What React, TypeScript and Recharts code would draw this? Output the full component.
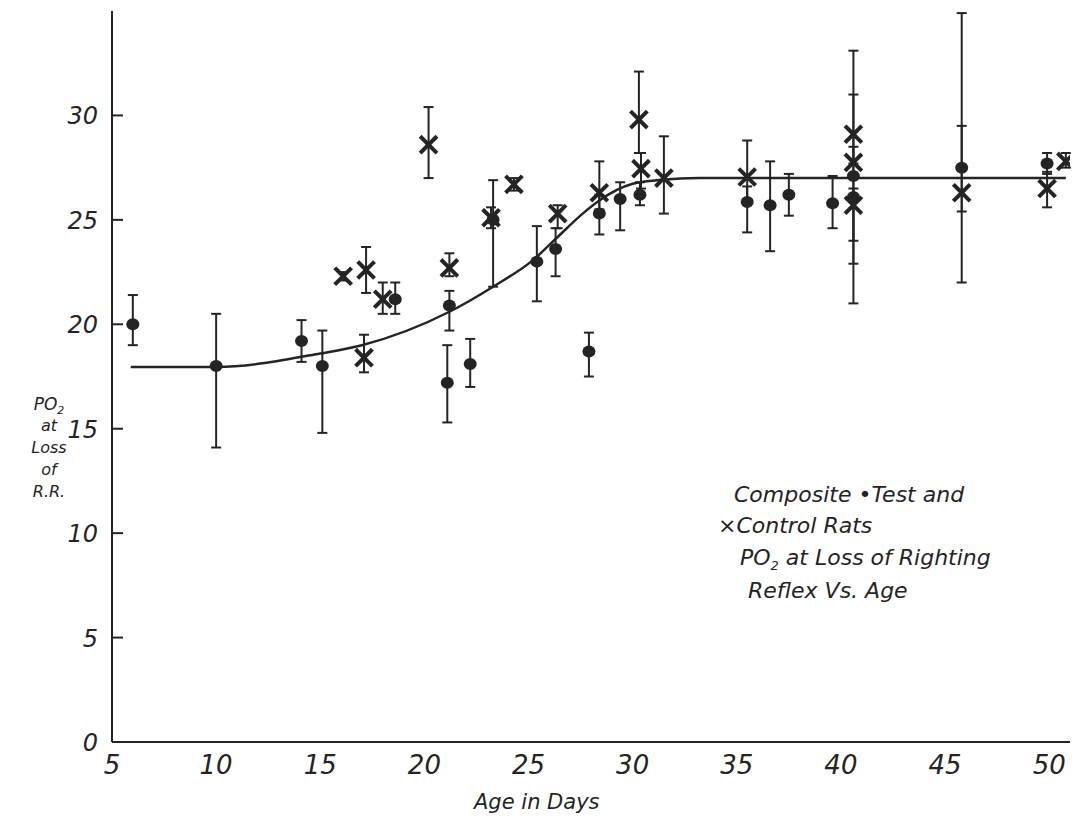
import React from "react";
import { ComposedChart, Scatter, Line, XAxis, YAxis, ErrorBar } from "recharts";

// Test rats (filled dots): age in days, PO2 at loss of righting reflex, error range
const testAge = [6.0, 10.0, 14.1, 15.1, 18.6, 21.2, 21.1, 22.2, 23.3, 25.4, 26.3, 27.9, 28.4, 29.4, 30.35, 35.5, 36.6, 37.5, 39.6, 40.6, 40.6, 45.8, 49.9];
const testPO2 = [20.0, 18.0, 19.2, 18.0, 21.2, 20.9, 17.2, 18.1, 25.0, 23.0, 23.6, 18.7, 25.3, 26.0, 26.2, 25.85, 25.7, 26.2, 25.8, 27.1, 26.1, 27.5, 27.7];
const testLo = [19.0, 14.1, 18.2, 14.8, 20.5, 19.7, 15.3, 17.0, 21.8, 21.1, 22.3, 17.5, 24.3, 24.5, 25.7, 24.4, 23.5, 25.2, 24.6, 24.0, 22.9, 25.4, 27.2];
const testHi = [21.4, 20.5, 20.2, 19.7, 22.0, 21.6, 19.0, 19.3, 26.9, 24.7, 24.6, 19.6, 26.2, 26.8, 26.8, 26.6, 27.8, 27.2, 27.1, 28.5, 27.1, 34.9, 28.2];

// Control rats (crosses)
const controlAge = [16.1, 17.2, 17.1, 18.0, 20.2, 21.2, 23.2, 24.3, 26.4, 28.4, 30.3, 30.4, 31.5, 35.5, 40.6, 40.6, 40.6, 45.8, 49.9, 50.8];
const controlPO2 = [22.3, 22.6, 18.4, 21.2, 28.6, 22.7, 25.1, 26.7, 25.3, 26.3, 29.8, 27.45, 27.0, 27.05, 29.1, 27.75, 25.7, 26.3, 26.5, 27.8];
const controlLo = [22.1, 21.5, 17.7, 20.5, 27.0, 22.3, 24.6, 26.4, 24.6, 25.5, 28.2, 26.5, 25.3, 26.0, 27.7, 27.1, 21.0, 22.0, 25.6, 27.5];
const controlHi = [22.5, 23.7, 19.5, 22.0, 30.4, 23.4, 25.6, 27.0, 25.7, 27.8, 32.1, 28.2, 29.0, 28.8, 33.1, 31.0, 26.5, 29.5, 27.3, 28.2];

// Fitted curve through the combined data
const curveAge = [5.9, 10.0, 15.0, 17.0, 21.2, 23.3, 25.2, 26.4, 27.6, 28.4, 30.0, 31.4, 33.2, 40.0, 50.8];
const curvePO2 = [17.96, 17.96, 18.6, 19.0, 20.6, 21.8, 23.06, 24.18, 25.3, 25.93, 26.73, 26.92, 27.0, 27.0, 27.0];

const xTicks = [5, 10, 15, 20, 25, 30, 35, 40, 45, 50];
const yTicks = [0, 5, 10, 15, 20, 25, 30];

const INK = "#242424";
const FONT = "'DejaVu Sans', sans-serif";

const toPoints = (age: number[], po2: number[], lo: number[], hi: number[]) =>
  age.map((x, i) => ({ x, y: po2[i], err: [po2[i] - lo[i], hi[i] - po2[i]] }));

const testData = toPoints(testAge, testPO2, testLo, testHi);
const controlData = toPoints(controlAge, controlPO2, controlLo, controlHi);
const curveData = curveAge.map((x, i) => ({ x, y: curvePO2[i] }));

const DotShape = (props: any) => {
  const { cx, cy } = props;
  if (cx == null || cy == null) return null;
  return <ellipse cx={cx} cy={cy} rx={6.5} ry={6} fill={INK} />;
};

const CrossShape = (props: any) => {
  const { cx, cy } = props;
  if (cx == null || cy == null) return null;
  const s = 7;
  return (
    <g stroke={INK} strokeWidth={4} strokeLinecap="square">
      <line x1={cx - s} y1={cy - s} x2={cx + s} y2={cy + s} />
      <line x1={cx - s} y1={cy + s} x2={cx + s} y2={cy - s} />
    </g>
  );
};

const YTick = (props: any) => {
  const { x, y, payload } = props;
  return (
    <g>
      <line x1={x} x2={x + 11} y1={y} y2={y} stroke={INK} strokeWidth={2} />
      <text x={x - 14} y={y + 9} textAnchor="end" fontSize={24} fontStyle="italic" fontFamily={FONT} fill={INK}>
        {payload.value}
      </text>
    </g>
  );
};

const XTick = (props: any) => {
  const { x, y, payload } = props;
  return (
    <text x={x} y={y + 32} textAnchor="middle" fontSize={26} fontStyle="italic" fontFamily={FONT} fill={INK}>
      {payload.value}
    </text>
  );
};

const textStyle: React.CSSProperties = {
  position: "absolute",
  fontFamily: FONT,
  fontStyle: "italic",
  color: INK,
  whiteSpace: "nowrap",
  lineHeight: 1,
};

// Stacked y-axis caption, one word per line, centred on x = 49
const captionStyle: React.CSSProperties = { ...textStyle, left: 49, transform: "translateX(-50%)" };
const yCaption = ["at", "Loss", "of", "R.R."];

export default function App() {
  return (
    <div style={{ position: "absolute", left: 0, top: 0, width: 1078, height: 835, background: "#fff" }}>
      <ComposedChart width={1078} height={835} margin={{ top: 11, right: 8, left: 0, bottom: 0 }}>
        <XAxis
          type="number"
          dataKey="x"
          domain={[5, 51]}
          ticks={xTicks}
          allowDataOverflow
          height={93}
          tickSize={0}
          tickMargin={0}
          tickLine={false}
          axisLine={{ stroke: INK, strokeWidth: 2 }}
          tick={<XTick />}
        />
        <YAxis
          type="number"
          dataKey="y"
          domain={[0, 35]}
          ticks={yTicks}
          allowDataOverflow
          width={112}
          tickSize={0}
          tickMargin={0}
          tickLine={false}
          axisLine={{ stroke: INK, strokeWidth: 2 }}
          tick={<YTick />}
        />
        <Line
          data={curveData}
          dataKey="y"
          type="monotone"
          stroke={INK}
          strokeWidth={2.5}
          dot={false}
          activeDot={false}
          isAnimationActive={false}
        />
        <Scatter data={testData} dataKey="y" shape={<DotShape />} isAnimationActive={false}>
          <ErrorBar dataKey="err" direction="y" width={5} stroke={INK} strokeWidth={2} isAnimationActive={false} />
        </Scatter>
        <Scatter data={controlData} dataKey="y" shape={<CrossShape />} isAnimationActive={false}>
          <ErrorBar dataKey="err" direction="y" width={5} stroke={INK} strokeWidth={2} isAnimationActive={false} />
        </Scatter>
      </ComposedChart>

      <div style={{ ...captionStyle, top: 396, fontSize: 17 }}>
        PO<span style={{ fontSize: 11, position: "relative", top: 4 }}>2</span>
      </div>
      {yCaption.map((word, i) => (
        <div key={word} style={{ ...captionStyle, top: 418 + i * 22, fontSize: 16 }}>
          {word}
        </div>
      ))}

      <div style={{ ...textStyle, left: 474, top: 792, fontSize: 21 }}>Age in Days</div>

      <div style={{ ...textStyle, left: 734, top: 484, fontSize: 22 }}>Composite •Test and</div>
      <div style={{ ...textStyle, left: 718, top: 515, fontSize: 22 }}>×Control Rats</div>
      <div style={{ ...textStyle, left: 740, top: 547, fontSize: 22 }}>
        PO<span style={{ fontSize: 13, position: "relative", top: 5 }}>2</span> at Loss of Righting
      </div>
      <div style={{ ...textStyle, left: 748, top: 580, fontSize: 22 }}>Reflex Vs. Age</div>
    </div>
  );
}
